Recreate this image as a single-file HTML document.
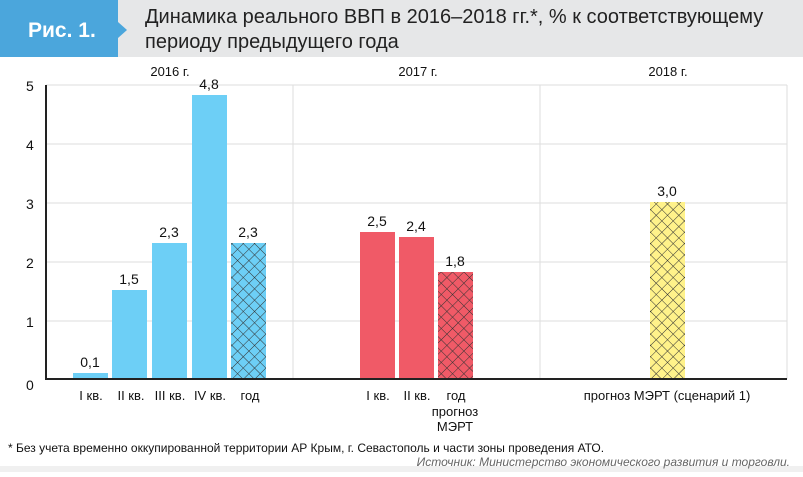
<!DOCTYPE html>
<html><head><meta charset="utf-8"><style>
body{margin:0;width:803px;height:472px;background:#fff;overflow:hidden;font-family:"Liberation Sans","DejaVu Sans",sans-serif;}
</style></head><body>
<svg width="803" height="472" xmlns="http://www.w3.org/2000/svg" font-family="Liberation Sans, DejaVu Sans, sans-serif">
<defs>
<pattern id="hb" width="8" height="8" patternUnits="userSpaceOnUse" patternTransform="rotate(45)">
<rect width="8" height="8" fill="#6dcff6"/><path d="M0 0H8M0 0V8" stroke="#333" stroke-width="1"/></pattern>
<pattern id="hr" width="8" height="8" patternUnits="userSpaceOnUse" patternTransform="rotate(45)">
<rect width="8" height="8" fill="#f05a67"/><path d="M0 0H8M0 0V8" stroke="#333" stroke-width="1"/></pattern>
<pattern id="hy" width="8" height="8" patternUnits="userSpaceOnUse" patternTransform="rotate(45)">
<rect width="8" height="8" fill="#fff28a"/><path d="M0 0H8M0 0V8" stroke="#333" stroke-width="1"/></pattern>
</defs>
<rect x="0" y="0" width="803" height="57" fill="#e6e7e8"/>
<rect x="0" y="466" width="803" height="6" fill="#f0f0f0"/>
<path d="M0 0H118V22L127 30L118 38V57H0Z" fill="#4ba6dc"/>
<text x="28" y="37" font-size="21" font-weight="bold" fill="#fff">Рис. 1.</text>
<text x="145" y="23" font-size="20" fill="#222">Динамика реального ВВП в 2016–2018 гг.*, % к соответствующему</text>
<text x="145" y="48" font-size="20" fill="#222">периоду предыдущего года</text>
<g font-size="13" fill="#111" text-anchor="middle">
<text x="170" y="76">2016 г.</text><text x="418" y="76">2017 г.</text><text x="668" y="76">2018 г.</text>
</g>
<g stroke="#ddd" stroke-width="1">
<line x1="46" y1="85" x2="787" y2="85"/><line x1="46" y1="144" x2="787" y2="144"/>
<line x1="46" y1="203" x2="787" y2="203"/><line x1="46" y1="262" x2="787" y2="262"/>
<line x1="46" y1="321" x2="787" y2="321"/>
<line x1="293" y1="85" x2="293" y2="379"/><line x1="540" y1="85" x2="540" y2="379"/>
<line x1="787" y1="85" x2="787" y2="379"/>
</g>
<g font-size="14" fill="#111">
<text x="26" y="91">5</text><text x="26" y="150">4</text><text x="26" y="209">3</text>
<text x="26" y="268">2</text><text x="26" y="327">1</text><text x="26" y="390">0</text>
</g>
<rect x="73" y="373" width="35" height="6" fill="#6dcff6"/>
<rect x="112" y="290" width="35" height="89" fill="#6dcff6"/>
<rect x="152" y="243" width="35" height="136" fill="#6dcff6"/>
<rect x="192" y="95" width="35" height="284" fill="#6dcff6"/>
<rect x="231" y="243" width="35" height="136" fill="url(#hb)"/>
<rect x="360" y="232" width="35" height="147" fill="#f05a67"/>
<rect x="399" y="237" width="35" height="142" fill="#f05a67"/>
<rect x="438" y="272" width="35" height="107" fill="url(#hr)"/>
<rect x="650" y="202" width="35" height="177" fill="url(#hy)"/>
<line x1="46" y1="85" x2="46" y2="379" stroke="#222" stroke-width="2"/>
<line x1="45" y1="379" x2="787" y2="379" stroke="#222" stroke-width="2"/>
<g font-size="14" fill="#111" text-anchor="middle">
<text x="90" y="367">0,1</text><text x="129" y="284">1,5</text><text x="169" y="237">2,3</text>
<text x="209" y="89">4,8</text><text x="248" y="237">2,3</text>
<text x="377" y="226">2,5</text><text x="416" y="231">2,4</text><text x="455" y="266">1,8</text>
<text x="667" y="196">3,0</text>
</g>
<g font-size="13" fill="#111" text-anchor="middle">
<text x="91" y="400">I кв.</text><text x="131" y="400">II кв.</text><text x="170" y="400">III кв.</text>
<text x="210" y="400">IV кв.</text><text x="250" y="400">год</text>
<text x="378" y="400">I кв.</text><text x="417" y="400">II кв.</text><text x="456" y="400">год</text>
<text x="455" y="416">прогноз</text><text x="455" y="431">МЭРТ</text>
<text x="667" y="400">прогноз МЭРТ (сценарий 1)</text>
</g>
<text x="8" y="452" font-size="12" fill="#111">* Без учета временно оккупированной территории АР Крым,  г. Севастополь и части зоны проведения АТО.</text>
<text x="790" y="466" font-size="12" font-style="italic" fill="#666" text-anchor="end">Источник: Министерство экономического развития и торговли.</text>
</svg>
</body></html>
